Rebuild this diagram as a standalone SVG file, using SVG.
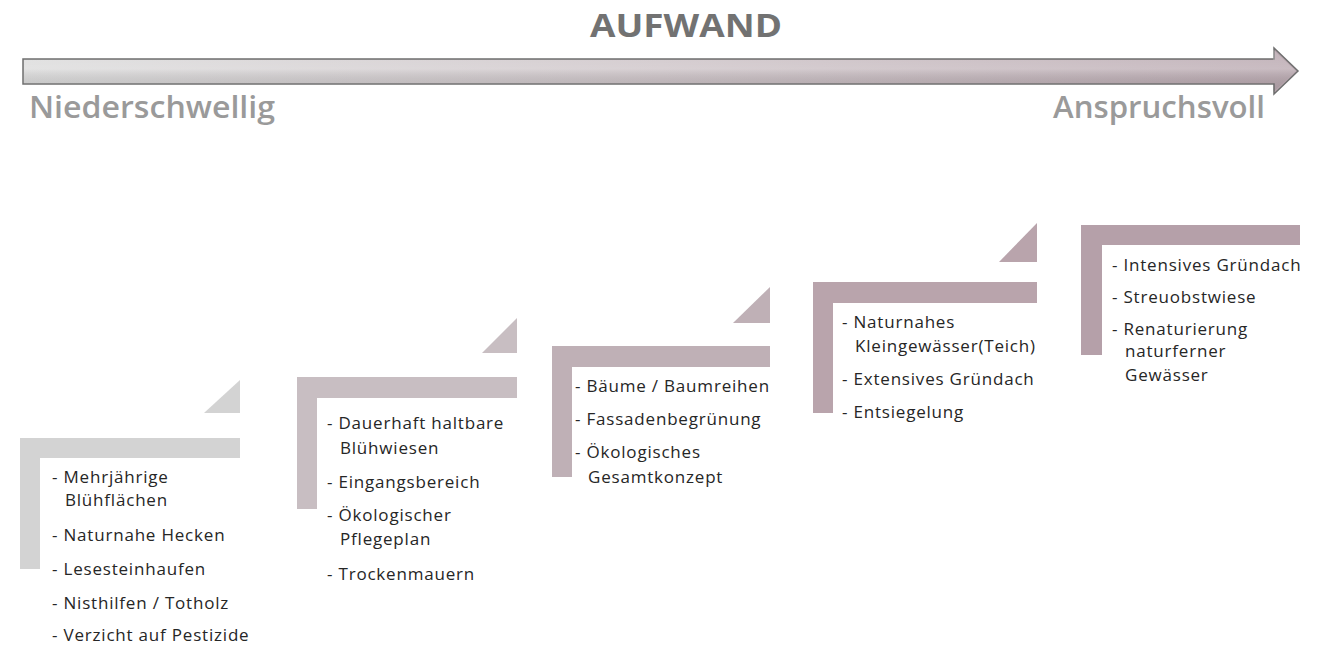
<svg xmlns="http://www.w3.org/2000/svg" width="1321" height="646" viewBox="0 0 1321 646">
  <defs>
    <linearGradient id="arrowGrad" x1="0" y1="0" x2="1" y2="0">
      <stop offset="0" stop-color="#dadada"/>
      <stop offset="0.5" stop-color="#cbc1c5"/>
      <stop offset="1" stop-color="#b7a5ad"/>
    </linearGradient>
    <linearGradient id="sheen" x1="0" y1="0" x2="0" y2="1">
      <stop offset="0" stop-color="#ffffff" stop-opacity="0.15"/>
      <stop offset="0.45" stop-color="#ffffff" stop-opacity="0.25"/>
      <stop offset="1" stop-color="#000000" stop-opacity="0.06"/>
    </linearGradient>
    <style>
      .item { font-family: "Open Sans", "Noto Sans", sans-serif; font-size: 17px; letter-spacing: 0.8px; fill: #262626; }
      .end { font-family: "Open Sans", "Noto Sans", sans-serif; font-size: 30px; font-weight: 600; fill: #9a9a9a; }
      .title { font-family: "Open Sans", "Noto Sans", sans-serif; font-size: 32px; font-weight: bold; fill: #727272; }
      .s1 { fill: #d3d3d3; }
      .s2 { fill: #c8bec2; }
      .s3 { fill: #bfb0b6; }
      .s4 { fill: #b9a4ac; }
      .s5 { fill: #b5a0a9; }
    </style>
  </defs>
  <rect width="1321" height="646" fill="#ffffff"/>

  <g id="axis">
    <text class="title" x="686" y="37" text-anchor="middle" textLength="192" lengthAdjust="spacingAndGlyphs">AUFWAND</text>
    <path d="M23,59 H1274 V48 L1298,71 L1274,94 V84 H23 Z" fill="url(#arrowGrad)" stroke="#6f6f6f" stroke-width="1.5" stroke-linejoin="miter"/>
    <path d="M24,60 H1273 V49.5 L1296,71 L1273,92.5 V83 H24 Z" fill="url(#sheen)"/>
    <text class="end" x="29" y="118" textLength="246" lengthAdjust="spacingAndGlyphs">Niederschwellig</text>
    <text class="end" x="1265" y="118" text-anchor="end" textLength="212" lengthAdjust="spacingAndGlyphs">Anspruchsvoll</text>
  </g>

  <g id="step1">
    <path class="s1" d="M20,438 H240 V458 H40 V569 H20 Z"/>
    <path class="s1" d="M204,413 H240 V380 Z"/>
    <text class="item" x="52" y="483">- Mehrjährige</text>
    <text class="item" x="65" y="506">Blühflächen</text>
    <text class="item" x="52" y="541">- Naturnahe Hecken</text>
    <text class="item" x="52" y="575">- Lesesteinhaufen</text>
    <text class="item" x="52" y="609">- Nisthilfen / Totholz</text>
    <text class="item" x="52" y="641">- Verzicht auf Pestizide</text>
  </g>

  <g id="step2">
    <path class="s2" d="M297,377 H517 V398 H317 V509 H297 Z"/>
    <path class="s2" d="M482,353 H517 V318 Z"/>
    <text class="item" x="327" y="429">- Dauerhaft haltbare</text>
    <text class="item" x="340" y="454">Blühwiesen</text>
    <text class="item" x="327" y="488">- Eingangsbereich</text>
    <text class="item" x="327" y="521">- Ökologischer</text>
    <text class="item" x="340" y="545">Pflegeplan</text>
    <text class="item" x="327" y="580">- Trockenmauern</text>
  </g>

  <g id="step3">
    <path class="s3" d="M552,346 H770 V367 H572 V477 H552 Z"/>
    <path class="s3" d="M733,323 H770 V287 Z"/>
    <text class="item" x="575" y="392">- Bäume / Baumreihen</text>
    <text class="item" x="575" y="425">- Fassadenbegrünung</text>
    <text class="item" x="575" y="458">- Ökologisches</text>
    <text class="item" x="588" y="483">Gesamtkonzept</text>
  </g>

  <g id="step4">
    <path class="s4" d="M813,282 H1037 V303 H833 V413 H813 Z"/>
    <path class="s4" d="M999,262 H1037 V223 Z"/>
    <text class="item" x="842" y="328">- Naturnahes</text>
    <text class="item" x="855" y="352">Kleingewässer(Teich)</text>
    <text class="item" x="842" y="385">- Extensives Gründach</text>
    <text class="item" x="842" y="418">- Entsiegelung</text>
  </g>

  <g id="step5">
    <path class="s5" d="M1081,225 H1300 V245 H1102 V355 H1081 Z"/>
    <text class="item" x="1112" y="271">- Intensives Gründach</text>
    <text class="item" x="1112" y="303">- Streuobstwiese</text>
    <text class="item" x="1112" y="335">- Renaturierung</text>
    <text class="item" x="1125" y="357">naturferner</text>
    <text class="item" x="1125" y="381">Gewässer</text>
  </g>

  <g id="connectors"></g>
</svg>
